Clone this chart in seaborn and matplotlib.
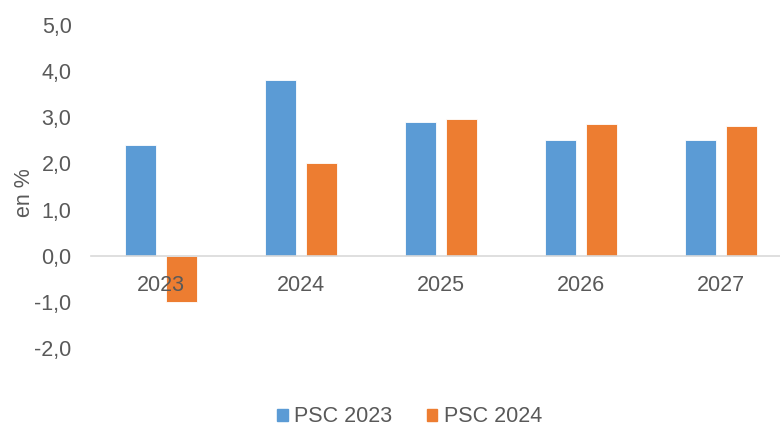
import pandas as pd
import matplotlib
matplotlib.use("Agg")
import matplotlib.pyplot as plt
import seaborn as sns
from matplotlib.ticker import FuncFormatter

# Données
annees = ["2023", "2024", "2025", "2026", "2027"]
psc_2023 = [2.4, 3.8, 2.9, 2.5, 2.5]
psc_2024 = [-1.0, 2.0, 2.97, 2.86, 2.81]
series = ["PSC 2023", "PSC 2024"]
couleurs = ["#5B9BD5", "#ED7D31"]

df = pd.DataFrame({
    "Annee": annees * 2,
    "Valeur": psc_2023 + psc_2024,
    "Serie": [series[0]] * len(annees) + [series[1]] * len(annees),
})

sns.set_style("white")
plt.rcParams['font.family'] = ['Liberation Sans', 'DejaVu Sans']
texte = "#595959"
taille = 15.5

fig = plt.figure(figsize=(7.8, 4.29), dpi=100)
ax = fig.add_axes([91 / 780, 81 / 429, 700 / 780, 323 / 429])

sns.barplot(data=df, x="Annee", y="Valeur", hue="Serie", palette=couleurs,
            saturation=1, width=0.586, gap=0.244, ax=ax,
            edgecolor="white", linewidth=0.6, legend=True)

ax.set_ylim(-2, 5)
ax.set_xlim(-0.5, 4.5)
ax.set_yticks(range(-2, 6))
ax.yaxis.set_major_formatter(FuncFormatter(lambda v, p: f"{v:.1f}".replace(".", ",")))
ax.set_axisbelow(False)  # les libellés passent devant les barres

for s in ["top", "right", "left"]:
    ax.spines[s].set_visible(False)
ax.spines["bottom"].set_position(("data", 0))
ax.spines["bottom"].set_color("#D9D9D9")
ax.spines["bottom"].set_linewidth(1.2)

ax.tick_params(axis="x", length=0, pad=14, labelsize=taille, labelcolor=texte)
ax.tick_params(axis="y", length=0, pad=14, labelsize=taille, labelcolor=texte)
ax.set_xlabel("")
ax.set_ylabel("en %", fontsize=taille, color=texte)
ax.yaxis.set_label_coords(-0.08, 0.48)

ax.legend_.remove()
handles = [plt.Rectangle((0, 0), 1, 1, color=c) for c in couleurs]
fig.legend(handles, series, loc="center", bbox_to_anchor=(0.525, 0.028),
           ncol=2, frameon=False, fontsize=taille, labelcolor=texte,
           handlelength=0.5, handleheight=0.5, handletextpad=0.3,
           columnspacing=1.6, borderpad=0.1)

fig.savefig("out.png", dpi=100)
